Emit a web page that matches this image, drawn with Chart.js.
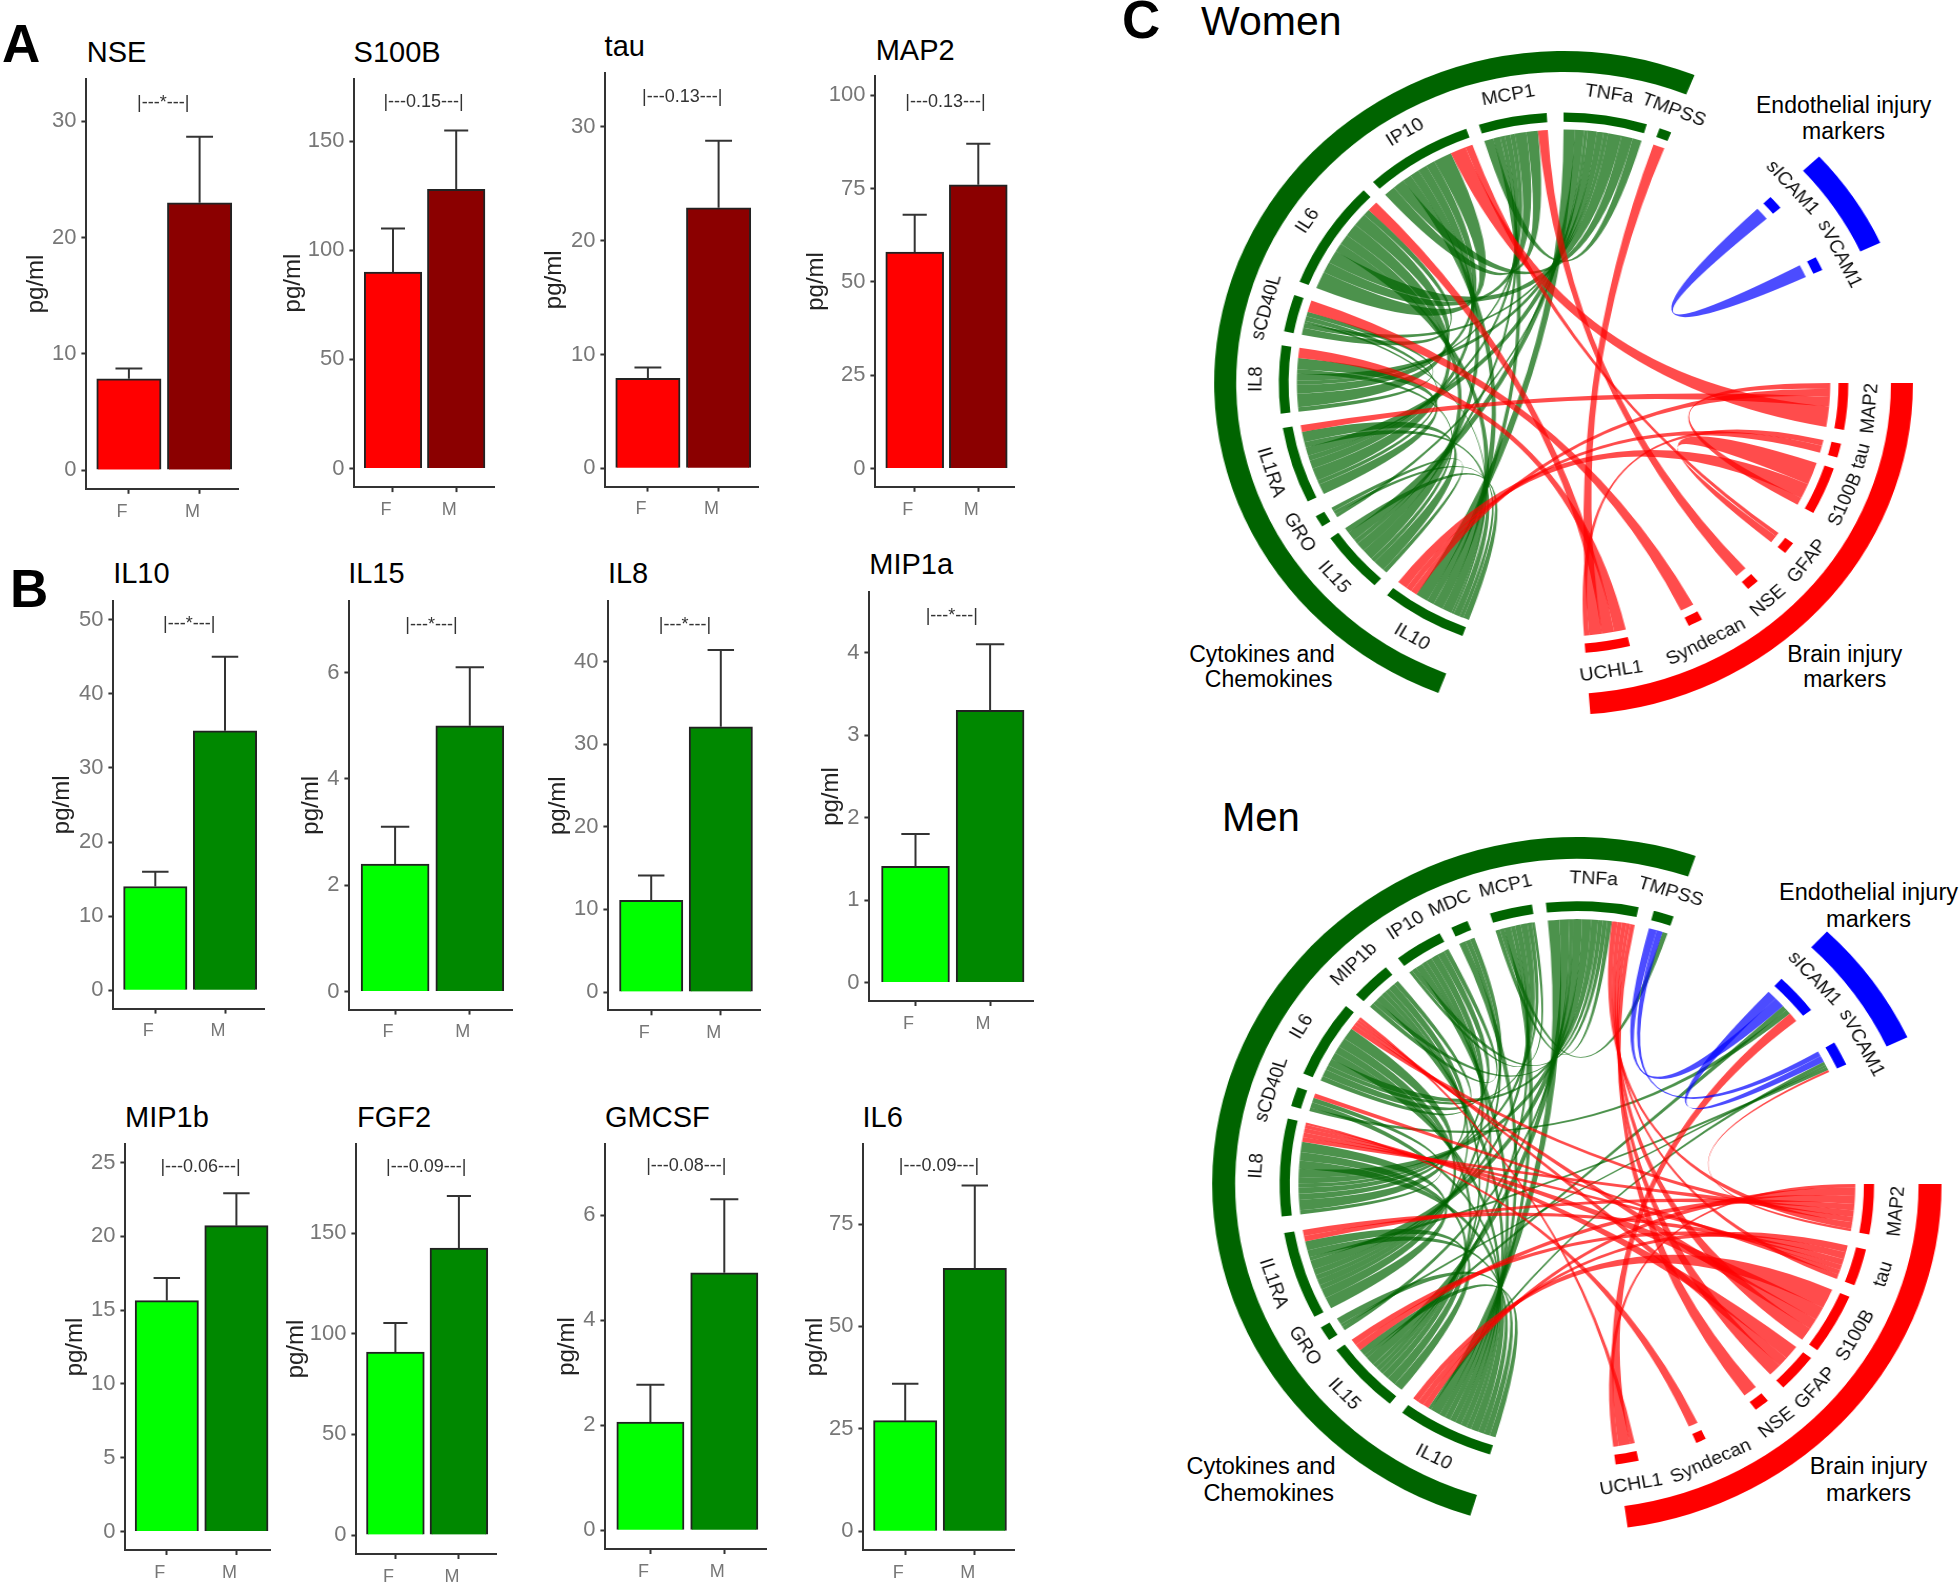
<!DOCTYPE html>
<html>
<head>
<meta charset="utf-8">
<title>Sex differences in injury markers and cytokines</title>
<script src="https://cdn.jsdelivr.net/npm/chart.js@4/dist/chart.umd.js"></script>
<style>
  html, body { margin: 0; padding: 0; background: #fff; }
  #page { position: relative; width: 1960px; height: 1583px; overflow: hidden; font-family: "Liberation Sans", Arial, sans-serif; }
  #page canvas { position: absolute; }
  .txt { position: absolute; line-height: 1; white-space: nowrap; color: #000; }
  .wrap { position: absolute; transform-origin: 0 0; }
</style>
</head>
<body>
<div id="page"></div>
<script>
// ---- bar panels: values ----
const sexLabels = ["F", "M"];
const barTitles = ["NSE", "S100B", "tau", "MAP2", "IL10", "IL15", "IL8", "MIP1a", "MIP1b", "FGF2", "GMCSF", "IL6"];
const femaleMeans = [7.85, 90, 7.9, 58, 14, 2.4, 11.1, 1.41, 15.65, 91, 2.06, 27];
const maleMeans = [23, 128, 22.9, 76, 35, 5, 32.1, 3.3, 20.73, 142.6, 4.9, 64.2];
const femaleUpper = [8.74, 110, 8.85, 68, 16, 3.1, 14.1, 1.8, 17.19, 105.4, 2.77, 36];
const maleUpper = [28.67, 155, 28.8, 87, 45, 6.1, 41.4, 4.1, 22.93, 168.6, 6.3, 84.4];
const bracketLabels = ["|---*---|", "|---0.15---|", "|---0.13---|", "|---0.13---|", "|---*---|", "|---*---|", "|---*---|", "|---*---|", "|---0.06---|", "|---0.09---|", "|---0.08---|", "|---0.09---|"];
const bracketHeights = [31.6, 168, 32.6, 98.1, 49.4, 6.9, 44.4, 4.44, 24.73, 183, 6.93, 89.2];
const yTickValues = [
  [0, 10, 20, 30], [0, 50, 100, 150], [0, 10, 20, 30], [0, 25, 50, 75, 100],
  [0, 10, 20, 30, 40, 50], [0, 2, 4, 6], [0, 10, 20, 30, 40], [0, 1, 2, 3, 4],
  [0, 5, 10, 15, 20, 25], [0, 50, 100, 150], [0, 2, 4, 6], [0, 25, 50, 75]
];
const brightColors = ["#ff0000", "#ff0000", "#ff0000", "#ff0000", "#00ff00", "#00ff00", "#00ff00", "#00ff00", "#00ff00", "#00ff00", "#00ff00", "#00ff00"];
const darkColors = ["#8b0000", "#8b0000", "#8b0000", "#8b0000", "#008800", "#008800", "#008800", "#008800", "#008800", "#008800", "#008800", "#008800"];

// ---- chord diagrams: angles in degrees, counter-clockwise from east ----
const womenCytokines = [
  ["TMPSS", 67.8, 70.3], ["TNFa", 73, 90], ["MCP1", 93.4, 107.3], ["IP10", 110, 132], ["IL6", 134.6, 158],
  ["sCD40L", 161, 169], ["IL8", 172, 186.5], ["IL1RA", 189.6, 206], ["GRO", 209.5, 212], ["IL15", 215, 228.4], ["IL10", 231.7, 249.2]
];
const womenBrain = [
  ["UCHL1", 274.4, 283.5], ["Syndecan", 296.1, 299.1], ["NSE", 310.4, 313], ["GFAP", 321.1, 323.7],
  ["S100B", 331.3, 341.6], ["tau", 344, 347], ["MAP2", 350, 360]
];
const womenEndothelial = [["sICAM1", 40.4, 43.4], ["sVCAM1", 24.7, 27.7]];
const womenGroups = [[68, 249], [274.4, 360], [25, 43]];

const womenRedLinks = [
  ["TMPSS", "UCHL1", 2.5], ["MCP1", "NSE", 2.1], ["IP10", "MAP2", 3.4], ["IP10", "GFAP", 1.6], ["IL6", "UCHL1", 2.4],
  ["sCD40L", "Syndecan", 2.5], ["IL8", "UCHL1", 2.3], ["IL1RA", "MAP2", 1.6], ["IL10", "S100B", 2], ["IL10", "tau", 1.2],
  ["IL10", "MAP2", 1.3], ["S100B", "GFAP", 3], ["S100B", "MAP2", 1], ["tau", "UCHL1", 1]
];
const womenGreenLinks = [
  ["TNFa", "MCP1", 2], ["TNFa", "IP10", 2.5], ["TNFa", "IL6", 3], ["TNFa", "sCD40L", 1], ["TNFa", "IL8", 1.5], ["TNFa", "IL1RA", 2],
  ["TNFa", "GRO", 0.8], ["TNFa", "IL15", 2], ["TNFa", "IL10", 2.5],
  ["MCP1", "IP10", 2.5], ["MCP1", "IL6", 2.5], ["MCP1", "IL8", 1], ["MCP1", "IL1RA", 1.2], ["MCP1", "IL15", 1], ["MCP1", "IL10", 1.5],
  ["IP10", "IL6", 4], ["IP10", "IL8", 2], ["IP10", "IL1RA", 2], ["IP10", "IL15", 2], ["IP10", "IL10", 2],
  ["IL6", "sCD40L", 1.5], ["IL6", "IL8", 3], ["IL6", "IL1RA", 3], ["IL6", "IL15", 2.4], ["IL6", "IL10", 2],
  ["sCD40L", "IL8", 1], ["sCD40L", "IL1RA", 1], ["sCD40L", "IL10", 0.5],
  ["IL8", "IL1RA", 2.5], ["IL8", "IL15", 1], ["IL1RA", "IL15", 2.5], ["IL1RA", "IL10", 1.3],
  ["GRO", "IL10", 0.8], ["GRO", "IL15", 0.9], ["IL15", "IL10", 1.2]
];
const womenBlueLinks = [["sICAM1", "sVCAM1", 1]];

const menCytokines = [
  ["TMPSS", 71, 75], ["TNFa", 78, 96], ["MCP1", 98.7, 107], ["MDC", 111.6, 115], ["IP10", 117.5, 127], ["MIP1b", 130, 138],
  ["IL6", 141, 157], ["sCD40L", 160, 164], ["IL8", 166.6, 186.6], ["IL1RA", 190, 208], ["GRO", 210.5, 213.5], ["IL15", 216, 231], ["IL10", 234, 253]
];
const menBrain = [
  ["UCHL1", 277.5, 282], ["Syndecan", 293.7, 295.7], ["NSE", 307, 310], ["GFAP", 314, 322],
  ["S100B", 324, 336.5], ["tau", 339, 346.6], ["MAP2", 349.7, 360]
];
const menEndothelial = [["sICAM1", 38, 46.5], ["sVCAM1", 25, 30]];
const menGroups = [[71, 253], [278, 360], [25, 46.7]];

const menRedLinks = [
  ["TNFa", "MAP2", 1.2], ["TNFa", "tau", 1], ["TNFa", "S100B", 1], ["TNFa", "GFAP", 0.8], ["TNFa", "NSE", 1],
  ["IL6", "MAP2", 1], ["IL6", "S100B", 0.8], ["IL6", "GFAP", 0.6], ["IL6", "UCHL1", 0.6], ["sCD40L", "tau", 1],
  ["IL8", "MAP2", 1.2], ["IL8", "tau", 1.1], ["IL8", "S100B", 1], ["IL8", "GFAP", 0.9], ["IL8", "Syndecan", 0.5],
  ["IL1RA", "MAP2", 1.2], ["IL1RA", "tau", 1.3], ["IL15", "MAP2", 1.5], ["IL15", "tau", 1.5],
  ["IL10", "MAP2", 1.5], ["IL10", "tau", 1.5], ["IL10", "S100B", 1.5],
  ["UCHL1", "MAP2", 0.7], ["UCHL1", "sICAM1", 1.5], ["MAP2", "sVCAM1", 0.5]
];
const menGreenLinks = [
  ["TNFa", "MCP1", 1], ["TNFa", "IP10", 1], ["TNFa", "MIP1b", 1], ["TNFa", "IL6", 1.5], ["TNFa", "IL8", 2], ["TNFa", "IL1RA", 2], ["TNFa", "IL15", 2], ["TNFa", "IL10", 2.5],
  ["TMPSS", "MCP1", 1], ["MCP1", "IP10", 0.7], ["MCP1", "IL6", 1], ["MCP1", "IL8", 1.5], ["MCP1", "IL1RA", 1.3], ["MCP1", "IL15", 1], ["MCP1", "IL10", 1.5],
  ["MDC", "IL8", 1], ["MDC", "IL1RA", 1], ["MDC", "IL10", 1.4],
  ["IP10", "MIP1b", 1], ["IP10", "IL6", 1.5], ["IP10", "IL8", 1.5], ["IP10", "IL1RA", 1.3], ["IP10", "IL15", 1], ["IP10", "IL10", 1.5],
  ["MIP1b", "IL6", 1], ["MIP1b", "IL8", 1.5], ["MIP1b", "IL1RA", 1], ["MIP1b", "IL15", 1], ["MIP1b", "IL10", 1.5],
  ["IL6", "IL8", 2.5], ["IL6", "IL1RA", 2], ["IL6", "IL15", 1.5], ["IL6", "IL10", 1.5],
  ["sCD40L", "sICAM1", 0.8], ["sCD40L", "IL8", 1], ["sCD40L", "IL10", 1.2],
  ["IL8", "IL1RA", 2.5], ["IL8", "IL15", 2], ["IL8", "IL10", 2],
  ["IL1RA", "IL15", 2], ["IL1RA", "IL10", 1.5], ["IL1RA", "sVCAM1", 0.8],
  ["GRO", "IL10", 1.5], ["GRO", "sVCAM1", 0.6], ["GRO", "TNFa", 0.9],
  ["IL15", "IL10", 1.5], ["IL15", "sICAM1", 0.8], ["IL10", "sVCAM1", 0.8]
];
const menBlueLinks = [["TMPSS", "sICAM1", 1.6], ["TMPSS", "sVCAM1", 1.2], ["sICAM1", "sVCAM1", 1.5]];

// ---- page layout, full size pixels ----
// xAxis, xRight, plotTop, plotBottom, tickF, tickM, zeroPx, lastTickPx, yTitleOffset
const barLayout = [
  [86.8, 239.3, 79.2, 489, 129.3, 200, 470.3, 121.6, 50],
  [354.6, 494.6, 79.2, 487.3, 393.2, 456.4, 468.7, 141.5, 61],
  [605, 757.9, 73, 486.6, 647.5, 718.2, 468.3, 127, 51],
  [875.7, 1015, 75.8, 486.6, 915, 978.6, 468.3, 95, 59],
  [113.8, 265, 600.7, 1008.3, 155.7, 225.4, 990, 619.3, 51],
  [348.9, 511.8, 600.7, 1009.3, 394.6, 469.3, 991.3, 672.3, 38],
  [608.6, 760.4, 600.7, 1010, 651.4, 721, 991.7, 661.3, 50],
  [869.3, 1032.9, 591.7, 1000.7, 915.4, 990, 982.3, 652.3, 38],
  [125, 269.6, 1143.7, 1549.7, 166.4, 236, 1531.3, 1162.3, 50],
  [356.4, 496.4, 1143.7, 1553.7, 395.4, 458.9, 1534.7, 1233, 60],
  [605.4, 766, 1143.7, 1548.7, 650.4, 724.3, 1530, 1214.7, 38],
  [863.2, 1013.9, 1143.7, 1549.7, 905, 974.6, 1531, 1223.7, 48]
];
// text, x, baseline, size, bold, centered
const pageTexts = [
  ["A", 2, 62, 53, true, false], ["B", 10, 606.7, 53, true, false], ["C", 1122, 38, 53, true, false],
  ["NSE", 86.8, 63, 29], ["S100B", 353.6, 63, 29], ["tau", 604.6, 56.8, 29], ["MAP2", 875.7, 60.3, 29],
  ["IL10", 113.2, 584, 29], ["IL15", 348.2, 584, 29], ["IL8", 607.9, 584, 29], ["MIP1a", 869.3, 575, 29],
  ["MIP1b", 125, 1127.3, 29], ["FGF2", 357, 1127.3, 29], ["GMCSF", 605, 1127.3, 29], ["IL6", 862.5, 1127.3, 29],
  ["Women", 1201, 36, 41], ["Men", 1222, 831, 40],
  ["Endothelial injury", 1843.6, 113.5, 23, false, true], ["markers", 1843.6, 139, 23, false, true],
  ["Cytokines and", 1262, 662, 23, false, true], ["Chemokines", 1268.7, 687.5, 23, false, true],
  ["Brain injury", 1844.7, 662, 23, false, true], ["markers", 1844.7, 687.5, 23, false, true],
  ["Endothelial injury", 1868.5, 901, 23.5, false, true], ["markers", 1868.5, 928, 23.5, false, true],
  ["Cytokines and", 1261, 1475, 23.5, false, true], ["Chemokines", 1268.7, 1502, 23.5, false, true],
  ["Brain injury", 1868.5, 1475, 23.5, false, true], ["markers", 1868.5, 1502, 23.5, false, true]
];

const page = document.getElementById("page");
const textFont = "\"Liberation Sans\", Arial, sans-serif";

pageTexts.forEach(([text, x, baseline, size, bold, centered]) => {
  const el = document.createElement("div");
  el.className = "txt";
  el.textContent = text;
  el.style.left = x + "px";
  el.style.top = (baseline - 0.8465 * size) + "px";
  el.style.fontSize = size + "px";
  if (bold) el.style.fontWeight = "bold";
  if (centered) el.style.transform = "translateX(-50%)";
  page.appendChild(el);
});

// error bars and the p value text on top of each bar panel
const barExtras = {
  id: "barExtras",
  afterDatasetsDraw(chart, args, opts) {
    const { ctx, scales } = chart;
    ctx.save();
    ctx.strokeStyle = "#333";
    ctx.lineWidth = 2;
    opts.upper.forEach((top, i) => {
      const x = scales.x.getPixelForValue(i + 1);
      const y0 = scales.y.getPixelForValue(opts.means[i]);
      const y1 = scales.y.getPixelForValue(top);
      ctx.beginPath();
      ctx.moveTo(x, y0);
      ctx.lineTo(x, y1);
      ctx.moveTo(x - opts.capWidth / 2, y1);
      ctx.lineTo(x + opts.capWidth / 2, y1);
      ctx.stroke();
    });
    ctx.fillStyle = "#333";
    ctx.font = "18px " + textFont;
    ctx.textAlign = "center";
    ctx.textBaseline = "middle";
    ctx.fillText(opts.bracket, scales.x.getPixelForValue(1.5) - 1, scales.y.getPixelForValue(opts.bracketY));
    ctx.restore();
  }
};

function drawBarPanel(i) {
  const [xAxis, xRight, top, bottom, tickF, tickM, zeroPx, lastTickPx, titleOffset] = barLayout[i];
  const ticks = yTickValues[i];
  const perUnit = (zeroPx - lastTickPx) / ticks[ticks.length - 1];
  const spacing = tickM - tickF;
  const left = xAxis - titleOffset - 14.4;
  // the y axis asks for half a label plus its tick padding above the plot
  const padTop = 20;
  const canvasHeight = Math.ceil(bottom - top + padTop + 33);
  const axisHeight = canvasHeight - padTop - (bottom - top);

  const canvas = document.createElement("canvas");
  canvas.width = Math.ceil(xRight - left + 4);
  canvas.height = canvasHeight;
  canvas.style.left = left + "px";
  canvas.style.top = (top - padTop) + "px";
  page.appendChild(canvas);

  new Chart(canvas, {
    type: "bar",
    data: {
      datasets: [{
        data: [{ x: 1, y: femaleMeans[i] }, { x: 2, y: maleMeans[i] }],
        backgroundColor: [brightColors[i], darkColors[i]],
        borderColor: "#222",
        borderWidth: 2,
        barThickness: spacing * 0.91
      }]
    },
    options: {
      responsive: false,
      animation: false,
      layout: { padding: { top: padTop, right: canvas.width - (xRight - left) } },
      plugins: {
        legend: { display: false },
        tooltip: { enabled: false },
        barExtras: {
          means: [femaleMeans[i], maleMeans[i]],
          upper: [femaleUpper[i], maleUpper[i]],
          capWidth: spacing * 0.38,
          bracket: bracketLabels[i],
          bracketY: bracketHeights[i]
        }
      },
      scales: {
        x: {
          type: "linear",
          offset: false,
          min: 1 - (tickF - xAxis) / spacing,
          max: 2 + (xRight - tickM) / spacing,
          afterBuildTicks: s => { s.ticks = [{ value: 1 }, { value: 2 }]; },
          afterFit: s => { s.height = axisHeight; },
          border: { display: true, color: "#333", width: 2 },
          grid: { offset: false, drawOnChartArea: false, drawTicks: true, tickLength: 5, tickColor: "#333", tickWidth: 2 },
          ticks: {
            callback: v => sexLabels[v - 1],
            color: "#777",
            font: { size: 18, family: textFont },
            padding: 7,
            labelOffset: -7,
            maxRotation: 0,
            autoSkip: false
          }
        },
        y: {
          min: (zeroPx - bottom) / perUnit,
          max: (zeroPx - top) / perUnit,
          afterBuildTicks: s => { s.ticks = ticks.map(v => ({ value: v })); },
          afterFit: s => { s.width = xAxis - left; },
          border: { display: true, color: "#333", width: 2 },
          grid: { drawOnChartArea: false, drawTicks: true, tickLength: 5, tickColor: "#333", tickWidth: 2 },
          title: { display: true, text: "pg/ml", color: "#222", font: { size: 24, family: textFont }, padding: 0 },
          ticks: {
            color: "#777",
            font: { size: 22, family: textFont },
            padding: 5,
            autoSkip: false
          }
        }
      }
    },
    plugins: [barExtras]
  });
}

barTitles.forEach((name, i) => drawBarPanel(i));

// slices of one ring, clockwise from east, with see-through slices in the gaps
function ringSlices(groups) {
  const parts = [];
  groups.forEach(([items, color]) => {
    items.forEach(item => {
      parts.push({ name: item[0], from: 360 - item[2], to: 360 - item[1], color });
    });
  });
  parts.sort((a, b) => a.from - b.from);
  const sizes = [];
  const colors = [];
  const names = [];
  let at = 0;
  parts.forEach(p => {
    if (p.from > at) {
      sizes.push(p.from - at);
      colors.push("rgba(0,0,0,0)");
      names.push("");
    }
    sizes.push(p.to - p.from);
    colors.push(p.color);
    names.push(p.name);
    at = p.to;
  });
  if (at < 360) {
    sizes.push(360 - at);
    colors.push("rgba(0,0,0,0)");
    names.push("");
  }
  return { sizes, colors, names };
}

// where each link sits on its sector: red first, then green, then blue, from the low angle end.
// inside a colour the far way round comes first, so a sector's links pinch together before they part
function placeLinks(linkSets, sectors) {
  const mid = {};
  const span = {};
  sectors.forEach(s => {
    mid[s[0]] = (s[1] + s[2]) / 2;
    span[s[0]] = [];
  });
  const links = [];
  linkSets.forEach(([list, color], rank) => {
    list.forEach(([a, b, value]) => {
      const link = { a, b, value, color, ends: {} };
      links.push(link);
      span[a].push({ link, other: b, rank });
      span[b].push({ link, other: a, rank });
    });
  });
  Object.keys(span).forEach(name => {
    const rows = span[name];
    const total = rows.reduce((sum, r) => sum + r.link.value, 0);
    rows.sort((p, q) => p.rank - q.rank ||
      ((mid[name] - mid[q.other] + 360) % 360) - ((mid[name] - mid[p.other] + 360) % 360));
    let at = 0;
    rows.forEach(r => {
      r.link.ends[name] = [at / total, (at + r.link.value) / total];
      at += r.link.value;
    });
  });
  return links;
}

const chordDrawing = {
  id: "chordDrawing",
  afterDatasetsDraw(chart, args, opts) {
    const { ctx } = chart;
    const meta = chart.getDatasetMeta(2);
    const bounds = {};
    opts.names.forEach((name, i) => {
      if (name) bounds[name] = meta.data[i].getProps(["x", "y", "startAngle", "endAngle", "innerRadius", "outerRadius"]);
    });
    const outer = chart.getDatasetMeta(0).data[0].getProps(["outerRadius"]).outerRadius;
    const first = bounds[opts.names.find(n => n)];
    const cx = first.x;
    const cy = first.y;
    const r = first.innerRadius * opts.linkRatio;

    // a link end, as canvas angles, on the part of the sector given to it
    const endOf = (name, link) => {
      const b = bounds[name];
      const size = b.endAngle - b.startAngle;
      const [lo, hi] = link.ends[name];
      return [b.endAngle - hi * size, b.endAngle - lo * size];
    };

    ctx.save();
    opts.links.forEach(link => {
      const [a0, a1] = endOf(link.a, link);
      const [b0, b1] = endOf(link.b, link);
      ctx.beginPath();
      ctx.arc(cx, cy, r, a0, a1);
      ctx.quadraticCurveTo(cx, cy, cx + r * Math.cos(b0), cy + r * Math.sin(b0));
      ctx.arc(cx, cy, r, b0, b1);
      ctx.quadraticCurveTo(cx, cy, cx + r * Math.cos(a0), cy + r * Math.sin(a0));
      ctx.closePath();
      ctx.fillStyle = link.color;
      ctx.fill();
    });

    ctx.fillStyle = "#111";
    ctx.font = opts.labelSize + "px " + textFont;
    ctx.textAlign = "center";
    ctx.textBaseline = "middle";
    Object.keys(bounds).forEach(name => {
      const b = bounds[name];
      const phi = (b.startAngle + b.endAngle) / 2;
      const theta = ((-phi * 180 / Math.PI) % 360 + 360) % 360;
      const turn = theta < 180 ? 90 - theta : 270 - theta;
      ctx.save();
      ctx.translate(cx + outer * 0.88 * Math.cos(phi), cy + outer * 0.88 * Math.sin(phi));
      ctx.rotate(turn * Math.PI / 180);
      ctx.fillText(name, 0, 0);
      ctx.restore();
    });
    ctx.restore();
  }
};

function drawChord(cx, cy, rx, ry, groups, cytokines, brain, endothelial, red, green, blue) {
  const pad = 3;
  const size = Math.ceil(2 * (ry + pad));
  const wrap = document.createElement("div");
  wrap.className = "wrap";
  wrap.style.left = (cx - (ry + pad) * rx / ry) + "px";
  wrap.style.top = (cy - ry - pad) + "px";
  wrap.style.width = size + "px";
  wrap.style.height = size + "px";
  wrap.style.transform = "scaleX(" + (rx / ry) + ")";
  page.appendChild(wrap);
  const canvas = document.createElement("canvas");
  canvas.width = size;
  canvas.height = size;
  wrap.appendChild(canvas);

  const outerRing = ringSlices([
    [[["", groups[0][0], groups[0][1]]], "#006400"],
    [[["", groups[1][0], groups[1][1]]], "#ff0000"],
    [[["", groups[2][0], groups[2][1]]], "#0000ff"]
  ]);
  const innerRing = ringSlices([[cytokines, "#006400"], [brain, "#ff0000"], [endothelial, "#0000ff"]]);
  const links = placeLinks(
    [[red, "rgba(255,0,0,0.7)"], [green, "rgba(0,100,0,0.7)"], [blue, "rgba(0,0,255,0.7)"]],
    cytokines.concat(brain, endothelial)
  );
  // green goes down first, as in the figure the reds lie over it
  links.sort((p, q) => (p.color.startsWith("rgba(0,100") ? 0 : 1) - (q.color.startsWith("rgba(0,100") ? 0 : 1));

  new Chart(canvas, {
    type: "doughnut",
    data: {
      datasets: [
        { data: outerRing.sizes, backgroundColor: outerRing.colors, borderWidth: 0, weight: 0.063 },
        { data: [360], backgroundColor: ["rgba(0,0,0,0)"], borderWidth: 0, weight: 0.122 },
        { data: innerRing.sizes, backgroundColor: innerRing.colors, borderWidth: 0, weight: 0.028 }
      ]
    },
    options: {
      responsive: false,
      animation: false,
      rotation: 90,
      cutout: "78.7%",
      layout: { padding: pad },
      plugins: {
        legend: { display: false },
        tooltip: { enabled: false },
        chordDrawing: { names: innerRing.names, links, linkRatio: 0.97, labelSize: 18.5 }
      }
    },
    plugins: [chordDrawing]
  });
}

drawChord(1563.6, 383, 349.4, 332, womenGroups, womenCytokines, womenBrain, womenEndothelial, womenRedLinks, womenGreenLinks, womenBlueLinks);
drawChord(1576.8, 1184, 364.7, 347, menGroups, menCytokines, menBrain, menEndothelial, menRedLinks, menGreenLinks, menBlueLinks);
</script>
</body>
</html>
